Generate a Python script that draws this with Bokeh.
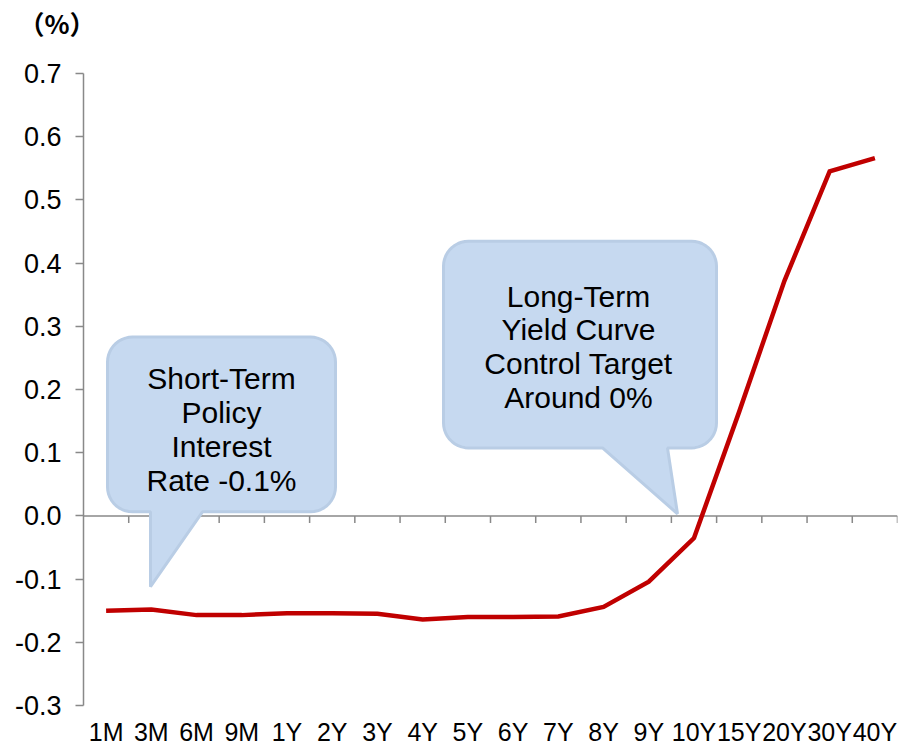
import numpy as np
from bokeh.plotting import figure
from bokeh.models import FactorRange, Range1d, FixedTicker, PrintfTickFormatter, Label, Title
from bokeh.embed import file_html
from bokeh.resources import INLINE

# ---- data ----
maturities = ["1M", "3M", "6M", "9M", "1Y", "2Y", "3Y", "4Y", "5Y", "6Y", "7Y",
              "8Y", "9Y", "10Y", "15Y", "20Y", "30Y", "40Y"]
yields = [-0.150, -0.148, -0.157, -0.157, -0.154, -0.154, -0.155, -0.164, -0.160,
          -0.160, -0.159, -0.144, -0.104, -0.035, 0.165, 0.372, 0.545, 0.566]
y_ticks = [-0.3, -0.2, -0.1, 0.0, 0.1, 0.2, 0.3, 0.4, 0.5, 0.6, 0.7]
callout_short = ["Short-Term", "Policy", "Interest", "Rate -0.1%"]
callout_long = ["Long-Term", "Yield Curve", "Control Target", "Around 0%"]
unit_label = "（%）"

# ---- layout ----
W, H = 899, 748
BL, BR, BT, BB = 83, 2, 73, 42
FW, FH = W - BL - BR, H - BT - BB
n = len(maturities)
ppx = FW / n          # pixels per category
ppy = FH / 1.0        # pixels per unit of y (range 1.0)
FONT = "Liberation Sans"
AXIS_GRAY = "#898989"

p = figure(x_range=FactorRange(*maturities), y_range=Range1d(-0.3, 0.7),
           width=W, height=H, min_border_left=BL, min_border_right=BR,
           min_border_top=BT, min_border_bottom=BB,
           output_backend="svg", toolbar_location=None)
p.outline_line_color = None
p.xgrid.grid_line_color = None
p.ygrid.grid_line_color = None
p.background_fill_color = "white"

# unit label (outer title) + spacer title nearest the frame
p.title.text = unit_label
p.title.align = "left"
p.title.offset = -65
p.title.standoff = 0
p.title.text_font = "Noto Sans CJK JP"
p.title.text_font_size = "26px"
p.title.text_font_style = "bold"
p.title.text_color = "black"
p.add_layout(Title(text=" ", text_font_size="1px", standoff=30), "above")

# y axis
ya = p.yaxis[0]
ya.ticker = FixedTicker(ticks=y_ticks)
ya.formatter = PrintfTickFormatter(format="%.1f")
ya.axis_line_color = AXIS_GRAY
ya.axis_line_width = 1.5
ya.major_tick_line_color = AXIS_GRAY
ya.major_tick_line_width = 1.5
ya.major_tick_out = 8
ya.major_tick_in = 0
ya.minor_tick_line_color = None
ya.major_label_text_font = FONT
ya.major_label_text_font_size = "27px"
ya.major_label_text_color = "black"
ya.major_label_standoff = 14

# x axis (labels only)
xa = p.xaxis[0]
xa.axis_line_color = None
xa.major_tick_line_color = None
xa.major_tick_out = 0
xa.major_tick_in = 0
xa.minor_tick_line_color = None
xa.major_label_text_font = FONT
xa.major_label_text_font_size = "25px"
xa.major_label_text_color = "black"
xa.major_label_standoff = 12

# zero line with category-boundary ticks
p.segment(x0=[0], x1=[n], y0=[0], y1=[0], line_color=AXIS_GRAY, line_width=1.5)
bounds = list(range(1, n + 1))
p.segment(x0=bounds, x1=bounds, y0=[0] * n, y1=[-7 / ppy] * n,
          line_color=AXIS_GRAY, line_width=1.5)

# yield curve
p.line(x=maturities, y=yields, line_color="#c00000", line_width=4.5, line_join="miter")


# ---- callouts ----
def callout(x0, x1, y0, y1, tail_l, tail_r, tip_x, tip_y, r=25):
    rx, ry = r / ppx, r / ppy
    xs, ys = [], []

    def arc(cx, cy, a0, a1):
        for a in np.linspace(np.radians(a0), np.radians(a1), 12):
            xs.append(cx + rx * np.cos(a))
            ys.append(cy + ry * np.sin(a))

    arc(x0 + rx, y1 - ry, 180, 90)
    arc(x1 - rx, y1 - ry, 90, 0)
    arc(x1 - rx, y0 + ry, 0, -90)
    xs.extend([tail_r, tip_x, tail_l]); ys.extend([y0, tip_y, y0])
    arc(x0 + rx, y0 + ry, -90, -180)
    return xs, ys


def px_x(page_x):
    return (page_x - BL) / ppx


def px_y(page_y):
    return 0.7 - (page_y - BT) / ppy


FILL = "#c6d9f0"
EDGE = "#b9cde5"

xs1, ys1 = callout(px_x(107), px_x(335), px_y(512), px_y(337),
                   px_x(150), px_x(202), px_x(150), px_y(587))
p.patch(xs1, ys1, fill_color=FILL, line_color=EDGE, line_width=3)

xs2, ys2 = callout(px_x(443), px_x(716), px_y(448), px_y(241),
                   px_x(602), px_x(667), px_x(677), px_y(514))
p.patch(xs2, ys2, fill_color=FILL, line_color=EDGE, line_width=3)

for i, t in enumerate(callout_short):
    p.add_layout(Label(x=px_x(221), y=px_y(378 + 34.3 * i), text=t, text_align="center",
                       text_baseline="middle", text_font=FONT, text_font_size="30px",
                       text_color="black"))
for i, t in enumerate(callout_long):
    p.add_layout(Label(x=px_x(578), y=px_y(296 + 33.7 * i), text=t, text_align="center",
                       text_baseline="middle", text_font=FONT, text_font_size="30px",
                       text_color="black"))

open("out.html", "w").write(file_html(p, INLINE))
